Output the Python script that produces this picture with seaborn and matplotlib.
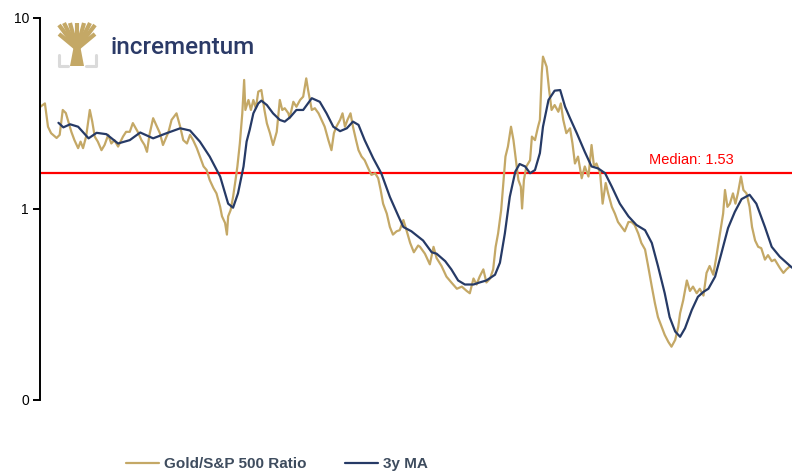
import matplotlib
matplotlib.use("Agg")
import matplotlib.pyplot as plt
import matplotlib.ticker as mticker
from matplotlib.lines import Line2D
from matplotlib.patches import Polygon
import pandas as pd
import seaborn as sns

# Gold/S&P 500 ratio (decimal years)
gold_year = [
    1898.0, 1898.8, 1899.3, 1899.8, 1900.7, 1901.2, 1901.7, 1902.2, 1903.1, 1903.6,
    1904.2, 1904.6, 1905.0, 1905.5, 1906.1, 1906.5, 1906.9, 1907.4, 1908.0, 1908.5,
    1909.1, 1909.6, 1910.1, 1910.7, 1911.5, 1912.0, 1912.6, 1913.1, 1913.9, 1914.5,
    1915.0, 1915.4, 1915.8, 1916.4, 1916.9, 1917.5, 1918.0, 1918.9, 1919.4, 1920.2,
    1920.8, 1921.3, 1921.9, 1922.4, 1922.9, 1923.5, 1924.0, 1924.6, 1925.1, 1925.6,
    1926.2, 1926.7, 1927.3, 1927.6, 1928.1, 1928.4, 1928.6, 1929.0, 1929.4, 1929.8,
    1930.1, 1930.5, 1930.9, 1931.2, 1931.4, 1931.9, 1932.3, 1932.7, 1933.1, 1933.5,
    1934.0, 1934.5, 1934.9, 1935.4, 1935.9, 1936.5, 1937.0, 1937.4, 1937.8, 1938.4,
    1938.6, 1939.2, 1939.7, 1940.3, 1940.8, 1941.3, 1941.6, 1942.2, 1942.7, 1943.3,
    1943.8, 1944.3, 1944.9, 1945.4, 1945.8, 1946.2, 1946.8, 1947.2, 1947.6, 1948.0,
    1948.5, 1948.9, 1949.4, 1949.8, 1950.3, 1950.8, 1951.4, 1951.9, 1952.5, 1953.0,
    1953.4, 1953.8, 1954.4, 1954.9, 1955.4, 1956.0, 1956.5, 1957.1, 1957.6, 1958.2,
    1958.8, 1959.5, 1959.8, 1960.6, 1961.4, 1962.0, 1962.5, 1963.3, 1964.1, 1964.9,
    1965.8, 1966.6, 1967.4, 1967.9, 1968.5, 1969.0, 1969.5, 1970.1, 1970.6, 1971.2,
    1971.7, 1972.1, 1972.5, 1973.0, 1973.3, 1973.7, 1974.1, 1974.6, 1975.0, 1975.4,
    1975.8, 1976.2, 1976.4, 1976.7, 1977.1, 1977.7, 1978.0, 1978.5, 1979.0, 1979.3,
    1979.6, 1979.8, 1980.4, 1980.8, 1981.2, 1981.7, 1982.3, 1982.7, 1983.1, 1983.6,
    1984.2, 1984.6, 1985.0, 1985.5, 1986.1, 1986.6, 1987.2, 1987.7, 1988.1, 1988.5,
    1989.1, 1989.5, 1990.0, 1990.4, 1991.0, 1991.5, 1992.0, 1992.6, 1993.1, 1993.7,
    1994.2, 1994.7, 1995.3, 1995.8, 1996.4, 1996.9, 1997.5, 1998.0, 1998.5, 1999.1,
    1999.6, 2000.2, 2000.7, 2001.3, 2001.8, 2002.1, 2002.6, 2003.2, 2003.7, 2004.2,
    2004.8, 2005.3, 2005.9, 2006.4, 2006.9, 2007.5, 2008.0, 2008.6, 2009.1, 2009.4,
    2009.8, 2010.2, 2010.7, 2011.1, 2011.5, 2012.0, 2012.4, 2012.9, 2013.4, 2013.8,
    2014.3, 2014.8, 2015.3, 2015.9, 2016.4, 2017.0, 2017.5, 2018.3, 2018.9, 2019.4,
    2020.0,
]
gold_ratio = [
    3.40, 3.55, 2.68, 2.48, 2.34, 2.43, 3.28, 3.16, 2.52, 2.28,
    2.07, 2.24, 2.07, 2.38, 3.28, 2.85, 2.38, 2.24, 2.02, 2.15,
    2.43, 2.19, 2.28, 2.11, 2.38, 2.52, 2.52, 2.80, 2.52, 2.28,
    2.15, 1.98, 2.43, 2.97, 2.74, 2.48, 2.15, 2.52, 2.91, 3.15,
    2.68, 2.28, 2.19, 2.43, 2.28, 2.07, 1.87, 1.66, 1.59, 1.41,
    1.28, 1.20, 1.02, 0.91, 0.84, 0.73, 0.91, 0.98, 1.15, 1.41,
    1.66, 2.19, 3.15, 4.71, 3.28, 3.70, 3.28, 3.70, 3.35, 4.09,
    4.17, 3.28, 2.79, 2.48, 2.15, 2.52, 3.70, 3.28, 3.35, 3.15,
    2.97, 3.62, 3.41, 3.70, 3.85, 4.80, 4.17, 3.28, 3.35, 3.15,
    2.91, 2.68, 2.28, 2.02, 2.48, 2.68, 2.91, 3.15, 2.68, 2.91,
    3.15, 2.68, 2.28, 2.02, 1.87, 1.79, 1.62, 1.50, 1.53, 1.44,
    1.25, 1.06, 0.94, 0.80, 0.73, 0.76, 0.77, 0.87, 0.77, 0.66,
    0.59, 0.64, 0.63, 0.58, 0.51, 0.63, 0.55, 0.50, 0.44, 0.41,
    0.38, 0.39, 0.37, 0.36, 0.43, 0.40, 0.44, 0.48, 0.41, 0.43,
    0.48, 0.63, 0.74, 0.98, 1.30, 1.87, 2.11, 2.68, 2.28, 1.79,
    1.41, 1.30, 1.00, 1.41, 1.66, 1.79, 2.38, 2.28, 2.68, 2.91,
    5.10, 6.24, 5.52, 4.17, 3.28, 3.48, 3.21, 3.55, 2.91, 2.48,
    2.63, 2.19, 1.72, 1.87, 1.44, 1.66, 1.47, 2.15, 1.66, 1.72,
    1.53, 1.06, 1.36, 1.20, 1.02, 0.94, 0.85, 0.80, 0.76, 0.85,
    0.85, 0.82, 0.74, 0.66, 0.61, 0.50, 0.39, 0.32, 0.27, 0.24,
    0.218, 0.200, 0.189, 0.205, 0.24, 0.283, 0.33, 0.42, 0.37, 0.39,
    0.36, 0.38, 0.35, 0.46, 0.50, 0.45, 0.56, 0.74, 0.94, 1.25,
    1.02, 1.06, 1.20, 1.06, 1.20, 1.47, 1.25, 1.20, 1.02, 0.80,
    0.68, 0.63, 0.62, 0.54, 0.57, 0.53, 0.54, 0.49, 0.46, 0.48,
    0.50,
]

# 3-year moving average
ma_year = [
    1901.0, 1901.8, 1902.9, 1904.2, 1905.9, 1907.2, 1908.8, 1910.7, 1912.6, 1914.3,
    1916.4, 1918.6, 1920.8, 1922.4, 1924.0, 1925.6, 1927.3, 1928.6, 1929.4, 1930.2,
    1931.1, 1931.6, 1932.1, 1932.7, 1933.5, 1934.0, 1934.9, 1935.9, 1937.0, 1937.8,
    1938.7, 1939.7, 1940.8, 1942.2, 1943.5, 1944.6, 1945.7, 1946.8, 1947.9, 1948.9,
    1949.8, 1950.8, 1952.2, 1953.5, 1954.9, 1956.3, 1957.1, 1958.4, 1959.8, 1960.3,
    1961.7, 1962.5, 1963.9, 1964.9, 1966.0, 1967.1, 1968.5, 1969.5, 1970.6, 1972.0,
    1972.8, 1973.6, 1974.4, 1975.3, 1976.0, 1976.9, 1977.7, 1978.5, 1979.3, 1979.8,
    1980.7, 1981.7, 1982.6, 1983.4, 1984.2, 1985.3, 1986.6, 1987.7, 1988.8, 1989.9,
    1991.0, 1992.3, 1993.7, 1995.0, 1996.4, 1997.5, 1998.5, 1999.6, 2000.4, 2001.3,
    2002.1, 2002.9, 2004.0, 2005.0, 2005.9, 2006.7, 2007.8, 2008.8, 2009.9, 2011.0,
    2012.1, 2013.4, 2014.5, 2015.9, 2017.0, 2018.3, 2019.7, 2020.3,
]
ma_ratio = [
    2.81, 2.66, 2.76, 2.68, 2.33, 2.49, 2.45, 2.19, 2.28, 2.50,
    2.33, 2.48, 2.63, 2.56, 2.24, 1.87, 1.47, 1.06, 1.01, 1.20,
    1.66, 2.24, 2.58, 3.15, 3.55, 3.67, 3.48, 3.15, 2.91, 2.85,
    3.01, 3.28, 3.28, 3.78, 3.62, 3.15, 2.68, 2.54, 2.63, 2.85,
    2.74, 2.28, 1.83, 1.53, 1.15, 0.91, 0.80, 0.76, 0.70, 0.68,
    0.59, 0.58, 0.53, 0.48, 0.42, 0.40, 0.40, 0.41, 0.42, 0.45,
    0.52, 0.74, 1.15, 1.56, 1.71, 1.66, 1.53, 1.59, 1.95, 2.68,
    3.70, 4.14, 4.17, 3.41, 2.97, 2.48, 1.98, 1.66, 1.62, 1.53,
    1.30, 1.06, 0.91, 0.82, 0.77, 0.66, 0.50, 0.36, 0.27, 0.227,
    0.213, 0.236, 0.294, 0.345, 0.366, 0.38, 0.44, 0.58, 0.79, 0.96,
    1.12, 1.18, 1.06, 0.80, 0.63, 0.56, 0.51, 0.49,
]

MEDIAN = 1.53
y_ticks = [0.1, 1, 10]
y_tick_labels = ["0", "1", "10"]

GOLD = "#C4A866"
NAVY = "#263A66"
RED = "#FF0000"
LEGEND_TXT = "#3E4C5E"

W, H = 792, 471


def px(x, y):
    # pixel (top-left origin) -> figure fraction
    return x / W, 1 - y / H


def draw_logo(fig):
    # simple tree mark in gold + grey bracket, then the wordmark
    trunk = Polygon([px(70, 66), px(84, 66), px(80, 45), px(74, 45)],
                    closed=True, facecolor=GOLD, edgecolor="none",
                    transform=fig.transFigure)
    fig.add_artist(trunk)
    tops = [(59, 34), (59, 25), (64, 23), (70, 23), (77, 23),
            (84, 23), (90, 23), (95, 25), (95, 34)]
    for tx, ty in tops:
        x0, y0 = px(77, 49)
        x1, y1 = px(tx, ty)
        fig.add_artist(Line2D([x0, x1], [y0, y1], color=GOLD, lw=3.0,
                              transform=fig.transFigure, solid_capstyle="butt"))
    for pts in ([(58.5, 55), (58.5, 66), (68, 66)], [(95.5, 55), (95.5, 66), (86, 66)]):
        xs, ys = zip(*[px(a, b) for a, b in pts])
        fig.add_artist(Line2D(xs, ys, color="#DADADA", lw=2.2,
                              transform=fig.transFigure))
    fx, fy = px(111, 53.5)
    fig.text(fx, fy, "incrementum", color="#2B3A67", fontsize=17.5,
             family=["Roboto", "DejaVu Sans"], fontweight="medium",
             ha="left", va="baseline")


def main():
    sns.set_theme(style="white")
    plt.rcParams["font.family"] = ["Liberation Sans", "DejaVu Sans"]

    gold_df = pd.DataFrame({"year": gold_year, "ratio": gold_ratio})
    ma_df = pd.DataFrame({"year": ma_year, "ratio": ma_ratio})

    fig = plt.figure(figsize=(W / 100, H / 100), dpi=100)
    ax = fig.add_axes([40 / W, (H - 399.5) / H, (W - 40) / W, 382 / H])

    sns.lineplot(data=gold_df, x="year", y="ratio", ax=ax, color=GOLD,
                 linewidth=1.6, estimator=None, sort=False,
                 label="Gold/S&P 500 Ratio")
    sns.lineplot(data=ma_df, x="year", y="ratio", ax=ax, color=NAVY,
                 linewidth=1.6, estimator=None, sort=False, label="3y MA")
    ax.axhline(MEDIAN, color=RED, linewidth=1.6, zorder=1)
    ax.text(2004.0, 1.72, f"Median: {MEDIAN:.2f}", color=RED, fontsize=10.5,
            ha="center", va="baseline")

    ax.set_yscale("log")
    ax.set_ylim(0.1, 10)
    ax.set_xlim(1898.0, 2020.3)
    ax.yaxis.set_major_locator(mticker.FixedLocator(y_ticks))
    ax.yaxis.set_minor_locator(mticker.NullLocator())
    ax.set_yticklabels(y_tick_labels)
    ax.set_xticks([])
    ax.set_xlabel("")
    ax.set_ylabel("")
    ax.grid(False)
    for side in ("top", "right", "bottom"):
        ax.spines[side].set_visible(False)
    ax.spines["left"].set_color("black")
    ax.spines["left"].set_linewidth(1.4)
    ax.tick_params(axis="y", which="major", left=True, length=5, width=1.4,
                   color="black", pad=3, labelsize=10, labelcolor="black")

    leg = ax.legend(loc="center", bbox_to_anchor=px(277, 464),
                    bbox_transform=fig.transFigure, ncol=2, frameon=False,
                    handlelength=2.15, handletextpad=0.33, columnspacing=2.5,
                    prop={"family": ["Liberation Sans"],
                          "weight": "bold", "size": 11})
    for t in leg.get_texts():
        t.set_color(LEGEND_TXT)

    draw_logo(fig)
    fig.savefig("out.png", dpi=100)
    plt.close(fig)


if __name__ == "__main__":
    main()
